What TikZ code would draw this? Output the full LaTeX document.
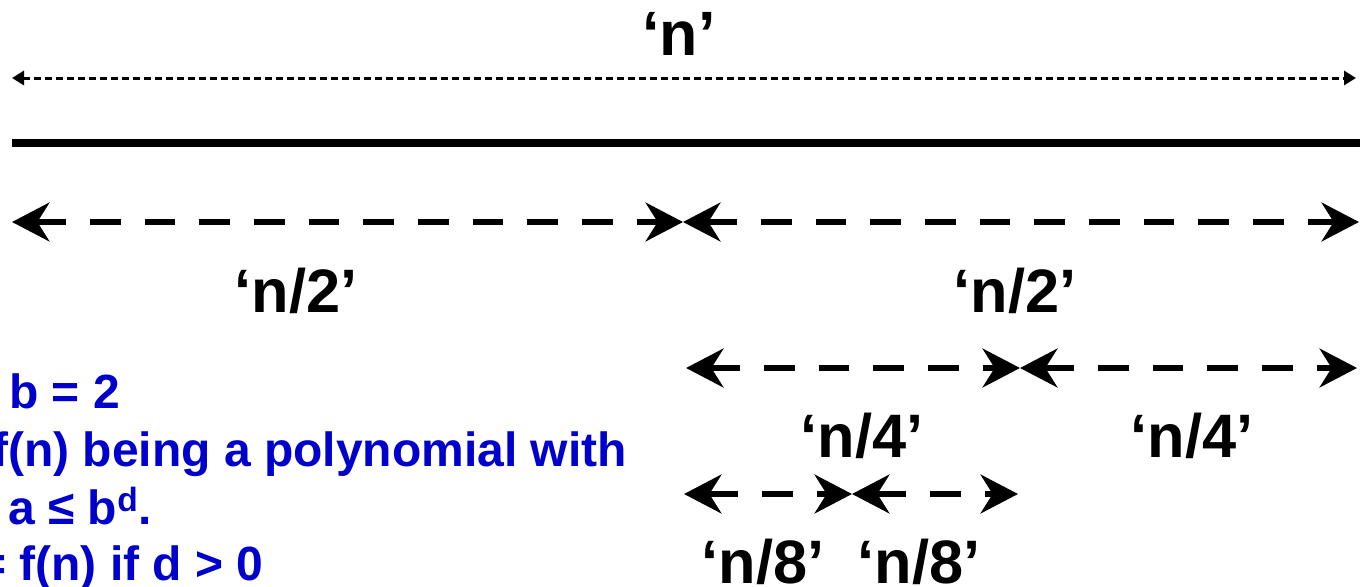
\documentclass[tikz,border=0pt]{standalone}
\usepackage{fontspec}
\setmainfont{Liberation Sans}
\usetikzlibrary{arrows.meta}
\definecolor{slideblue}{RGB}{0,0,204}

\begin{document}
\begin{tikzpicture}[x=0.75pt, y=-0.75pt,
  lbl/.style={font=\fontsize{46}{50}\selectfont\bfseries, anchor=base, inner sep=0pt},
  note/.style={font=\fontsize{36}{40}\selectfont\bfseries, text=slideblue, anchor=base west, inner sep=0pt},
  part/.style={line width=4.5pt, dash pattern=on 23pt off 18pt,
    {Stealth[length=28pt, width=29pt, inset=9pt]}-{Stealth[length=28pt, width=29pt, inset=9pt]}},
  whole/.style={line width=2.25pt, dash pattern=on 5.25pt off 3pt,
    {Triangle[length=9pt, width=10.5pt]}-{Triangle[length=9pt, width=10.5pt]}}]
\useasboundingbox (0,0) rectangle (1360,586);
\clip (0,0) rectangle (1360,586);

% end points of the pieces
\foreach \n/\x/\y in {top0/12/78, top1/1356/78, bar0/12/143, bar1/1360/143,
  h0/12/222, h1/683/222, h2/1359/222,
  q0/686/368, q1/1020/368, q2/1357/368,
  e0/684/494, e1/852/494, e2/1018/494}
  \coordinate (\n) at (\x,\y);

\draw[whole] (top0) -- (top1);
\draw[line width=6pt] (bar0) -- (bar1);
\foreach \a/\b in {h0/h1, h1/h2, q0/q1, q1/q2, e0/e1, e1/e2}
  \draw[part] (\a) -- (\b);

\node[lbl, font=\fontsize{47}{50}\selectfont\bfseries] (lblN) at (679,55) {‘n’};
\node[lbl] (lblHa) at (296,312) {‘n/2’};
\node[lbl] (lblHb) at (1015,312) {‘n/2’};
\node[lbl] (lblQa) at (862,457) {‘n/4’};
\node[lbl] (lblQb) at (1192,457) {‘n/4’};
\node[lbl] (lblEa) at (763,583) {‘n/8’};
\node[lbl] (lblEb) at (919,583) {‘n/8’};

% text on the left, cut by the frame
\node[note] (nb) at (9,408) {b = 2};
\node[note] (nf) at (-8,466) {f(n) being a polynomial with};
\node[note] (na) at (8,524) {a ≤ b\textsuperscript{d}.};
\node[note] (nd) at (-22,580) {= f(n) if d > 0};
\end{tikzpicture}
\end{document}
